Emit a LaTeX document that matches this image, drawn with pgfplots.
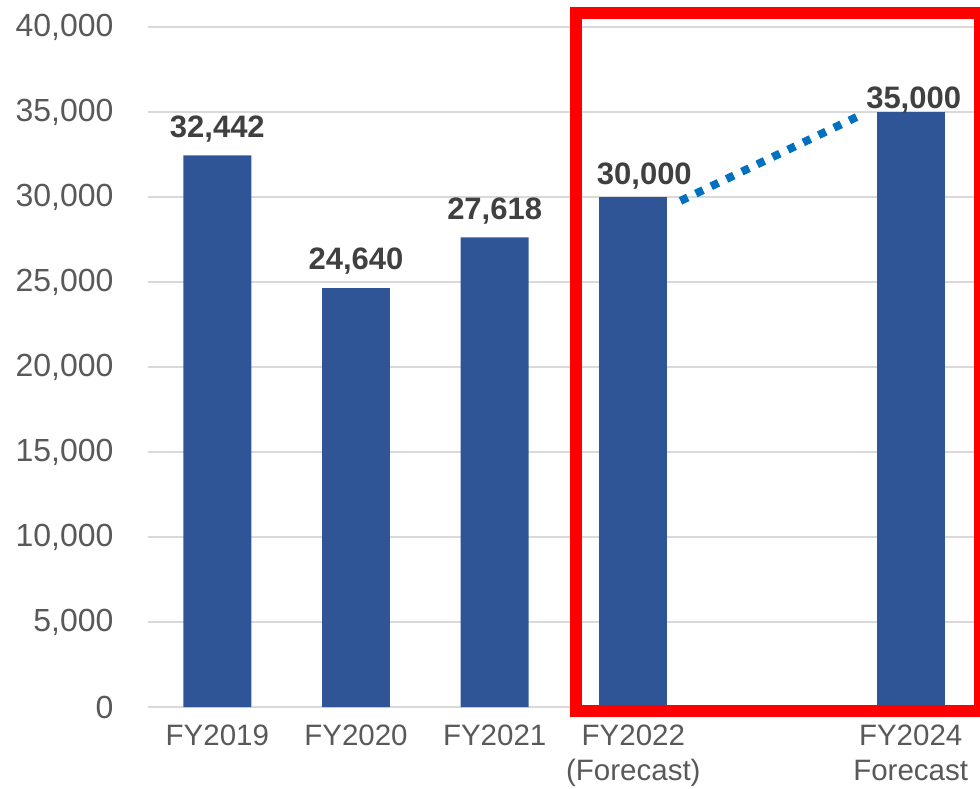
\documentclass[border=0pt]{standalone}
\usepackage{pgfplots}
\pgfplotsset{compat=1.18}
\usepackage{fontspec}
\setmainfont{Liberation Sans}
\definecolor{barblue}{HTML}{2F5597}
\definecolor{dotblue}{HTML}{0070C0}
\definecolor{tickgray}{HTML}{595959}
\definecolor{labgray}{HTML}{404040}
\definecolor{gridgray}{HTML}{D9D9D9}
\begin{document}
\begin{tikzpicture}
\begin{axis}[
  scale only axis,
  width=832pt, height=680pt,
  xmin=-0.5, xmax=5.5, ymin=0, ymax=40000,
  clip=false,
  axis x line*=bottom,
  axis y line*=left,
  x axis line style={draw=gridgray, line width=2pt},
  y axis line style={draw=none},
  xtick={0,1,2,3,5},
  xticklabels={FY2019,FY2020,FY2021,{FY2022\\(Forecast)},{FY2024\\Forecast}},
  ytick={0,5000,10000,15000,20000,25000,30000,35000,40000},
  scaled y ticks=false,
  ymajorgrids,
  grid style={draw=gridgray, line width=2pt},
  major tick length=0pt,
  /pgf/number format/.cd, fixed, precision=0, 1000 sep={,}, assume math mode=true,
  /pgfplots/.cd,
  xticklabel style={font=\fontsize{29.5}{35}\selectfont, text=tickgray, align=center, yshift=-14pt},
  yticklabel style={font=\fontsize{32}{36}\selectfont, text=tickgray, xshift=-31pt},
  nodes near coords style={font=\fontsize{31}{36}\selectfont\bfseries, text=labgray},
]
\addplot[ybar, bar shift=0pt, bar width=0.49, fill=barblue, draw=none,
  nodes near coords, nodes near coords style={yshift=10pt}] coordinates {
  (0,32442) (1,24640) (2,27618)
};
\addplot[ybar, bar shift=0pt, bar width=0.49, fill=barblue, draw=none,
  nodes near coords, nodes near coords style={yshift=4pt, xshift=11pt}] coordinates {
  (3,30000)
};
\addplot[ybar, bar shift=0pt, bar width=0.49, fill=barblue, draw=none,
  nodes near coords, nodes near coords style={yshift=-5pt, xshift=3pt}] coordinates {
  (5,35000)
};
\addplot[draw=dotblue, line width=8pt, dash pattern=on 8pt off 9pt, no marks] coordinates {
  (3.34,29770) (4.64,34820)
};
\draw[red, line width=12pt] (axis cs:2.59,40794) rectangle (axis cs:5.5,-206);
\coordinate (bbll) at (rel axis cs:0,0);
\coordinate (bbur) at (rel axis cs:1,1);
\end{axis}
\pgfresetboundingbox
\path[use as bounding box] ([xshift=-148pt,yshift=-81pt]bbll) rectangle ([yshift=27pt]bbur);
\end{tikzpicture}
\end{document}
